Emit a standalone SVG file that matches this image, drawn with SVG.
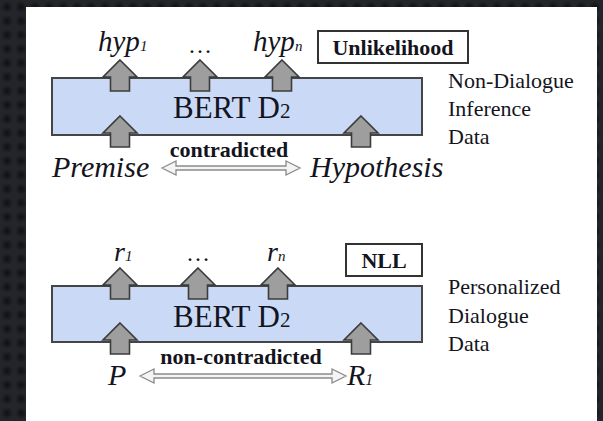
<svg xmlns="http://www.w3.org/2000/svg" xmlns:xlink="http://www.w3.org/1999/xlink" width="603" height="421" viewBox="0 0 603 421">
  <style>
    .serif { font-family: "Liberation Serif", "Times New Roman", serif; fill: #141420; }
    .it { font-style: italic; }
    .bold { font-weight: bold; }
    .enc { fill: #c9d9f6; stroke: #454545; stroke-width: 2; }
    .loss { fill: #ffffff; stroke: #333333; stroke-width: 2; }
    .up { fill: #9e9e9e; stroke: #3c3c3c; stroke-width: 1.6; stroke-linejoin: miter; }
    .rel { fill: #f4f4f4; stroke: #8a8a8a; stroke-width: 1.3; }
  </style>
  <defs>
    <radialGradient id="dot" cx="0.5" cy="0.5" r="0.5">
      <stop offset="0" stop-color="#0f1012"/>
      <stop offset="1" stop-color="#24252a"/>
    </radialGradient>
    <pattern id="quilt" width="14" height="14" patternUnits="userSpaceOnUse">
      <rect width="14" height="14" fill="#24252a"/>
      <circle cx="7" cy="7" r="6" fill="url(#dot)"/>
    </pattern>
    <path id="upArrow" class="up" d="M0,0 L17,17 L9.5,17 L9.5,31 L-9.5,31 L-9.5,17 L-17,17 Z"/>
  </defs>

  <!-- backdrop and page -->
  <rect x="0" y="0" width="603" height="421" fill="url(#quilt)"/>
  <rect x="26" y="7" width="571" height="414" fill="#ffffff"/>

  <!-- ===== upper stage: non-dialogue inference data ===== -->
  <g id="encoder-nli">
    <rect class="enc" x="52" y="78" width="370" height="57"/>
    <text class="serif" x="173" y="118" font-size="31">BERT D<tspan font-size="21">2</tspan></text>
  </g>

  <g id="outputs-nli">
    <text class="serif it" x="98" y="51" font-size="29">hyp<tspan font-size="15">1</tspan></text>
    <text class="serif" x="188" y="53" font-size="24">…</text>
    <text class="serif it" x="253" y="51" font-size="29">hyp<tspan font-size="15">n</tspan></text>
  </g>

  <g id="loss-unlikelihood">
    <rect class="loss" x="318" y="31" width="150" height="32"/>
    <text class="serif bold" x="393" y="55" font-size="22" text-anchor="middle">Unlikelihood</text>
  </g>

  <g id="label-nli">
    <text class="serif" x="448" y="88" font-size="22">Non-Dialogue</text>
    <text class="serif" x="448" y="116" font-size="22">Inference</text>
    <text class="serif" x="448" y="144" font-size="22">Data</text>
  </g>

  <g id="premise">
    <text class="serif it" x="52" y="177" font-size="30">Premise</text>
  </g>
  <g id="hypothesis">
    <text class="serif it" x="310" y="177" font-size="30">Hypothesis</text>
  </g>

  <!-- ===== lower stage: personalized dialogue data ===== -->
  <g id="encoder-dialogue">
    <rect class="enc" x="52" y="286" width="370" height="56"/>
    <text class="serif" x="173" y="327" font-size="31">BERT D<tspan font-size="21">2</tspan></text>
  </g>

  <g id="outputs-dialogue">
    <text class="serif it" x="114" y="261" font-size="28">r<tspan font-size="15">1</tspan></text>
    <text class="serif" x="186" y="261" font-size="24">…</text>
    <text class="serif it" x="267" y="261" font-size="28">r<tspan font-size="15">n</tspan></text>
  </g>

  <g id="loss-nll">
    <rect class="loss" x="346" y="244" width="76" height="32"/>
    <text class="serif bold" x="384" y="268" font-size="22" text-anchor="middle">NLL</text>
  </g>

  <g id="label-dialogue">
    <text class="serif" x="448" y="294" font-size="22">Personalized</text>
    <text class="serif" x="448" y="323" font-size="22">Dialogue</text>
    <text class="serif" x="448" y="351" font-size="22">Data</text>
  </g>

  <g id="persona">
    <text class="serif it" x="108" y="385" font-size="30">P</text>
  </g>
  <g id="response">
    <text class="serif it" x="347" y="385" font-size="30">R<tspan font-size="16">1</tspan></text>
  </g>

  <!-- ===== connectors ===== -->
  <g id="connectors">
    <!-- upper stage: encoder outputs -->
    <use href="#upArrow" x="120" y="60"/>
    <use href="#upArrow" x="200" y="60"/>
    <use href="#upArrow" x="282" y="60"/>
    <!-- upper stage: inputs -->
    <use href="#upArrow" x="120" y="116"/>
    <use href="#upArrow" x="361" y="116"/>
    <!-- premise / hypothesis relation -->
    <path class="rel" d="M162,168 L176,161 L176,166 L286,166 L286,161 L300,168 L286,175 L286,170 L176,170 L176,175 Z"/>
    <text class="serif bold" x="229" y="157" font-size="22" text-anchor="middle">contradicted</text>

    <!-- lower stage: encoder outputs -->
    <use href="#upArrow" x="120" y="268"/>
    <use href="#upArrow" x="198" y="268"/>
    <use href="#upArrow" x="278" y="268"/>
    <!-- lower stage: inputs -->
    <use href="#upArrow" x="120" y="323"/>
    <use href="#upArrow" x="361" y="323"/>
    <!-- persona / response relation -->
    <path class="rel" d="M140,376 L154,369 L154,374 L332,374 L332,369 L346,376 L332,383 L332,378 L154,378 L154,383 Z"/>
    <text class="serif bold" x="241" y="364" font-size="22" text-anchor="middle">non-contradicted</text>
  </g>
</svg>
